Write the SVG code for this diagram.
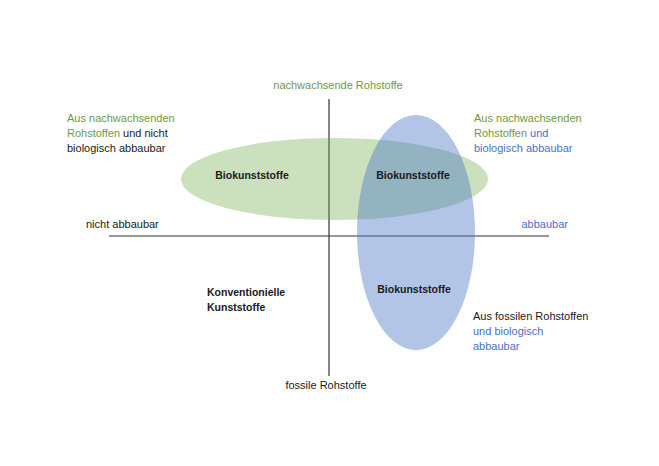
<svg xmlns="http://www.w3.org/2000/svg" width="659" height="466" viewBox="0 0 659 466">
<style>
text{font-family:"Liberation Sans","DejaVu Sans",sans-serif;font-size:11px;fill:#1a1a1a}
.g{fill:#6e9a45}
.b{fill:#4a6fca}
.bold{font-weight:bold;font-size:10.5px}
.ax{stroke:#333;stroke-width:1.2}
</style>
<rect width="659" height="466" fill="#fff"/>
<g id="axes">
<line class="ax" x1="329" y1="99" x2="329" y2="376"/>
<line class="ax" x1="109" y1="236" x2="549" y2="236"/>
</g>
<g id="green-ellipse">
<ellipse cx="334.5" cy="179" rx="153.5" ry="41" fill="#70ad47" fill-opacity="0.36"/>
</g>
<g id="blue-ellipse">
<ellipse cx="416" cy="232.5" rx="59" ry="117.5" fill="#4472c4" fill-opacity="0.41"/>
</g>
<g id="labels-axes">
<text class="g" x="338" y="89" text-anchor="middle">nachwachsende Rohstoffe</text>
<text x="326" y="389" text-anchor="middle">fossile Rohstoffe</text>
<text x="86" y="228">nicht abbaubar</text>
<text class="b" x="568" y="228" text-anchor="end">abbaubar</text>
</g>
<g id="q-top-left">
<text class="g" x="67" y="122">Aus nachwachsenden</text>
<text x="67" y="137"><tspan class="g">Rohstoffen</tspan> und nicht</text>
<text x="67" y="152">biologisch abbaubar</text>
<text class="bold" x="252" y="179" text-anchor="middle">Biokunststoffe</text>
</g>
<g id="q-top-right">
<text class="g" x="474" y="122">Aus nachwachsenden</text>
<text class="g" x="474" y="137">Rohstoffen <tspan class="b">und</tspan></text>
<text class="b" x="474" y="152">biologisch abbaubar</text>
<text class="bold" x="413" y="179" text-anchor="middle">Biokunststoffe</text>
</g>
<g id="q-bottom-left">
<text class="bold" x="207" y="296">Konventionielle</text>
<text class="bold" x="207" y="311">Kunststoffe</text>
</g>
<g id="q-bottom-right">
<text class="bold" x="414" y="293" text-anchor="middle">Biokunststoffe</text>
<text x="473" y="320">Aus fossilen Rohstoffen</text>
<text class="b" x="473" y="335">und biologisch</text>
<text class="b" x="473" y="350">abbaubar</text>
</g>
</svg>
